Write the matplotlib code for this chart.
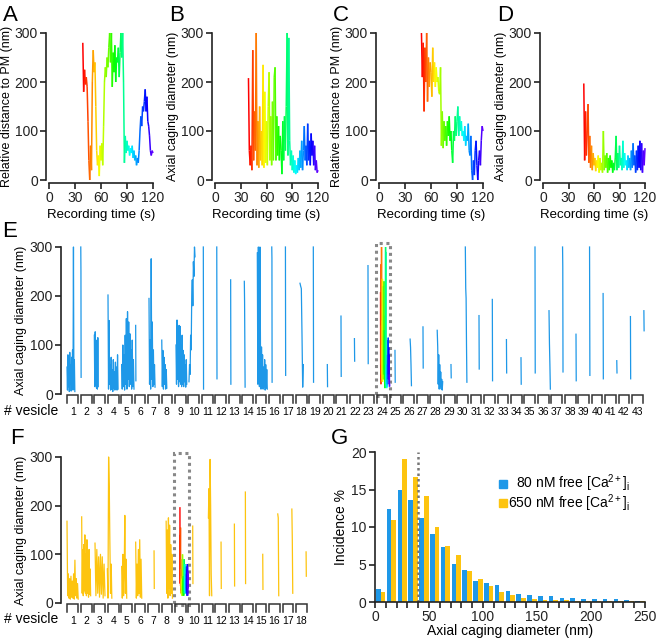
import numpy as np
import matplotlib
matplotlib.use('Agg')
import matplotlib.pyplot as plt
from matplotlib.collections import LineCollection
from matplotlib.patches import Rectangle

plt.rcParams['font.family'] = ['Liberation Sans', 'DejaVu Sans']
plt.rcParams['mathtext.fontset'] = 'custom'
plt.rcParams['mathtext.rm'] = 'Liberation Sans'
plt.rcParams['mathtext.it'] = 'Liberation Sans:italic'
plt.rcParams['mathtext.bf'] = 'Liberation Sans:bold'

BLUE = '#1e98e8'
GOLD = '#fdc40f'
INK = '#222222'

# ---- single vesicle traces (1 s steps) ----
a_t0 = 39
a_vals = [280, 180, 225, 195, 210, 190, 120, 40, 0, 70,
          20, 200, 265, 220, 240, 150, 60, 30, 50, 8,
          70, 40, 75, 30, 110, 200, 230, 210, 250, 230,
          270, 300, 240, 300, 190, 260, 220, 275, 200, 250,
          240, 270, 210, 260, 300, 250, 300, 200, 35, 90,
          55, 80, 60, 70, 50, 65, 55, 70, 45, 60,
          40, 50, 30, 45, 35, 60, 100, 130, 110, 150,
          140, 160, 185, 140, 170, 120, 110, 90, 60, 50,
          60, 55]
b_t0 = 39
b_vals = [208, 60, 30, 70, 20, 265, 40, 140, 60, 300,
          30, 120, 25, 150, 40, 100, 30, 235, 25, 180,
          35, 120, 30, 150, 220, 40, 130, 30, 160, 40,
          210, 230, 40, 130, 50, 110, 40, 90, 60, 12,
          120, 40, 130, 60, 150, 300, 50, 290, 80, 30,
          60, 20, 50, 15, 40, 12, 30, 15, 45, 20,
          60, 25, 80, 20, 60, 110, 40, 70, 30, 115,
          40, 80, 30, 95, 50, 80, 30, 70, 20, 40,
          15, 20]
c_t0 = 49
c_vals = [300, 210, 280, 140, 270, 200, 300, 160, 250, 190,
          240, 220, 170, 270, 200, 240, 190, 230, 200, 210,
          180, 175, 230, 70, 140, 65, 120, 80, 110, 70,
          120, 90, 130, 80, 100, 60, 35, 100, 80, 130,
          90, 120, 150, 90, 130, 100, 120, 90, 100, 80,
          110, 70, 90, 80, 115, 60, 50, 90, 20, 0,
          40, 10, 60, 80, 30, 0, 40, 60, 30, 80,
          110, 100]
d_t0 = 48
d_vals = [197, 40, 140, 50, 100, 155, 35, 90, 25, 70,
          20, 55, 30, 45, 18, 40, 25, 50, 15, 45,
          20, 35, 15, 100, 20, 50, 25, 55, 15, 45,
          20, 50, 25, 40, 15, 35, 20, 45, 90, 20,
          55, 25, 70, 30, 45, 20, 80, 25, 55, 30,
          40, 20, 50, 25, 45, 20, 60, 25, 75, 30,
          50, 15, 60, 20, 70, 25, 80, 20, 75, 15,
          60, 30, 65]

# ---- E: 80 nM, 43 vesicles (start s, end s, values) ----
e_mark = 24
e_t0 = [0, 3, 4, 6, 8, 13, 12, 6, 13, 9, 17, 17, 21, 23, 19, 28, 30, 40, 39, 44, 46, 46,
        47, b_t0, 48, 63, 58, 65, 68, 76, 78, 77, 83, 93, 98, 103, 104, 104, 105, 106, 108, 110, 110]
e_t1 = [70, 6, 39, 96, 118, 15, 66, 51, 109, 63, 19, 19, 23, 30, 108, 31, 32, 70, 41, 46, 48, 48,
        49, b_t0 + len(b_vals) - 1, 50, 75, 60, 114, 70, 90, 80, 79, 85, 95, 100, 115, 108, 106, 108, 108, 110, 112, 112]
e_vals = [
    [55, 8, 80, 15, 70, 5, 85, 20, 60, 6, 75, 12, 90, 8, 300, 10, 70, 5],
    [300, 250, 34],
    [120, 15, 127, 20, 110, 12, 90, 10, 115, 15],
    [202, 10, 150, 20, 60, 8, 75, 10, 50, 5, 70, 12, 45, 8, 65, 10, 55, 8, 80, 10],
    [60, 10, 100, 15, 80, 8, 120, 20, 154, 10, 168, 30, 147, 15, 123, 20, 90, 10, 110, 15, 70, 10],
    [140, 27],
    [195, 20, 110, 10, 276, 30, 147, 15, 90, 20, 60, 14],
    [110, 15, 89, 10, 75, 20, 60, 10, 50, 12],
    [100, 20, 151, 30, 120, 15, 140, 25, 138, 20, 100, 15, 120, 20, 89, 15, 80, 25, 60, 14, 70, 20],
    [25, 60, 40, 120, 90, 200, 233, 180, 270, 240, 300, 280],
    [300, 10],
    [300, 31],
    [233, 20],
    [230, 188, 100, 14],
    [288, 20, 300, 209, 15, 300, 100, 10, 96, 20, 80, 10, 55, 15, 70, 8, 60, 12, 50, 10],
    [300, 277, 24],
    [300, 38],
    [226, 220, 215, 120, 14, 60],
    [300, 24],
    [60, 15],
    [159, 36],
    [113, 67],
    [262, 62],
    b_vals,
    [89, 24],
    [112, 95, 60, 17],
    [137, 53],
    [130, 96, 20, 80, 10, 60, 15, 45, 10, 30, 8, 25],
    [60, 33],
    [300, 216, 195, 100, 24],
    [160, 51],
    [193, 27],
    [111, 43],
    [74, 20],
    [300, 43],
    [170, 103, 60, 10],
    [300, 260, 45],
    [122, 27],
    [300, 38],
    [205, 31],
    [68, 43],
    [158, 31],
    [170, 129],
]

# ---- F: 650 nM, 18 vesicles ----
f_mark = 9
f_t0 = [0, 11, 10, 0, 8, 13, 57, 45, d_t0, 42, 62, 55, 54, 32, 67, 81, 87, 94]
f_t1 = [100, 91, 99, 40, 53, 67, 59, 101, d_t0 + len(d_vals) - 1, 44, 92, 57, 56, 34, 69, 90, 95, 96]
f_vals = [
    [168, 15, 60, 10, 50, 8, 55, 12, 45, 10, 60, 8, 88, 15, 50, 10, 40, 8],
    [177, 20, 110, 15, 120, 25, 140, 20, 100, 15, 130, 20, 90, 12, 110, 18, 70, 15],
    [123, 15, 110, 20, 95, 12, 100, 18, 95, 10, 80, 15],
    [70, 10, 300, 240, 120, 20, 80, 10],
    [75, 10, 100, 15, 60, 180, 20, 90, 10],
    [125, 10, 80, 15, 110, 20, 130, 12, 90, 10],
    [107, 30],
    [168, 20, 150, 10, 175, 30, 160, 15, 120, 20, 100, 10],
    d_vals,
    [158, 40],
    [175, 235, 15, 295, 200, 60, 15],
    [125, 30],
    [162, 35],
    [228, 40],
    [100, 28],
    [183, 175, 15],
    [193, 130, 20],
    [105, 55],
]

# ---- G: histogram (10 nm bins) ----
g_bins = [0, 10, 20, 30, 40, 50, 60, 70, 80, 90, 100, 110, 120, 130, 140, 150,
          160, 170, 180, 190, 200, 210, 220, 230, 240]
g_80nM = [1.8, 12.4, 15.0, 13.6, 11.2, 9.1, 7.3, 5.1, 4.3, 2.8, 2.5, 2.3, 1.5, 1.1, 1.0, 0.85,
          0.75, 0.6, 0.5, 0.45, 0.4, 0.4, 0.4, 0.3, 0.15]
g_650nM = [1.3, 10.9, 19.1, 16.7, 14.1, 10.0, 7.5, 6.3, 4.1, 3.1, 2.2, 1.3, 1.0, 0.6, 0.45, 0.3,
           0.3, 0.25, 0.2, 0.2, 0.2, 0.15, 0.15, 0.1, 0.1]
g_median = 40

SLOT = 120  # one recording = 120 s
W, H = 659, 643
fig = plt.figure(figsize=(W / 100, H / 100), dpi=100)


def px_axes(x0, x1, ytop, ybot):
    return fig.add_axes([x0 / W, 1 - ybot / H, (x1 - x0) / W, (ybot - ytop) / H])


def rainbow(ax, x, v, lw=1.1):
    x = np.asarray(x, float)
    v = np.asarray(v, float)
    pts = np.column_stack([x, v]).reshape(-1, 1, 2)
    segs = np.concatenate([pts[:-1], pts[1:]], axis=1)
    frac = (x[:-1] - x[0]) / (x[-1] - x[0])
    lc = LineCollection(segs, colors=plt.cm.hsv(frac * 0.75), linewidths=lw, clip_on=False)
    ax.add_collection(lc)


def style(ax):
    for s in ['top', 'right']:
        ax.spines[s].set_visible(False)
    for s in ['left', 'bottom']:
        ax.spines[s].set_linewidth(1.2)
        ax.spines[s].set_color(INK)
    ax.tick_params(width=1.2, length=4, color=INK, labelsize=10, pad=2, labelcolor=INK)


def letter(x, y, s):
    fig.text(x / W, 1 - y / H, s, fontsize=16, va='top', ha='left', color='black')


# ---- top row ----
top = [('A', 49, 153, a_t0, a_vals, 'Relative distance to PM (nm)'),
       ('B', 215, 318, b_t0, b_vals, 'Axial caging diameter (nm)'),
       ('C', 379, 483, c_t0, c_vals, 'Relative distance to PM (nm)'),
       ('D', 543, 645, d_t0, d_vals, 'Axial caging diameter (nm)')]
for lab, x0, x1, t0, vals, ylab in top:
    ax = px_axes(x0, x1, 33, 180)
    rainbow(ax, t0 + np.arange(len(vals)), vals)
    ax.set_xlim(0, 120)
    ax.set_ylim(0, 300)
    ax.set_xticks([0, 30, 60, 90, 120])
    ax.set_yticks([0, 100, 200, 300])
    style(ax)
    ax.spines['left'].set_position(('outward', 2))
    ax.spines['bottom'].set_position(('outward', 2))
    ax.set_xlabel('Recording time (s)', fontsize=9.5, labelpad=3)
    ax.set_ylabel(ylab, fontsize=9, labelpad=1)
    letter(x0 - 46, 5, lab)


def vesicle_axis(ax, n):
    for k in range(n):
        x0 = k * SLOT
        ax.plot([x0 + 4, x0 + 4, x0 + 100, x0 + 100], [-18, -2, -2, -18], color='#333333',
                lw=1.1, clip_on=False, solid_joinstyle='miter')
        ax.text(x0 + 52, -36, str(k + 1), ha='center', va='center', fontsize=7.5,
                family=['Liberation Sans Narrow', 'Liberation Sans'], clip_on=False)


def trace_panel(ax, t0s, t1s, vals, mark, color):
    for k in range(len(vals)):
        x = k * SLOT + np.linspace(t0s[k], t1s[k], len(vals[k]))
        if k + 1 == mark:
            rainbow(ax, x, vals[k], lw=1.0)
        else:
            ax.plot(x, vals[k], color=color, lw=0.9, clip_on=False)
    n = len(vals)
    ax.set_xlim(0, n * SLOT)
    ax.set_ylim(0, 300)
    ax.set_yticks([0, 100, 200, 300])
    ax.set_xticks([])
    style(ax)
    ax.spines['bottom'].set_visible(False)
    ax.spines['left'].set_position(('outward', 4))
    ax.set_ylabel('Axial caging diameter (nm)', fontsize=9, labelpad=2)
    vesicle_axis(ax, n)
    ax.add_patch(Rectangle(((mark - 1) * SLOT - 4, -4), SLOT + 10, 312, fill=False,
                           ec='#888888', ls=(0, (1, 1.2)), lw=2.2, clip_on=False))


# ---- E ----
axE = px_axes(67, 645, 247, 394)
trace_panel(axE, e_t0, e_t1, e_vals, e_mark, BLUE)
fig.text(58 / W, 1 - 411 / H, '# vesicle', ha='right', va='center', fontsize=10)
letter(2, 221, 'E')

# ---- F ----
axF = px_axes(67, 309, 457, 603)
trace_panel(axF, f_t0, f_t1, f_vals, f_mark, GOLD)
fig.text(58 / W, 1 - 619 / H, '# vesicle', ha='right', va='center', fontsize=10)
letter(10, 428, 'F')

# ---- G ----
axG = px_axes(375, 645, 452, 602)
bins = np.array(g_bins)
axG.bar(bins + 3.1, g_80nM, width=4.3, color=BLUE, linewidth=0)
axG.bar(bins + 7.4, g_650nM, width=4.3, color=GOLD, linewidth=0)
axG.plot([g_median, g_median], [0, 20], ls=(0, (1, 1.2)), color='#777777', lw=1.8)
axG.set_xlim(0, 250)
axG.set_ylim(0, 20)
axG.set_xticks([0, 50, 100, 150, 200, 250])
axG.set_xticks(np.arange(0, 251, 10), minor=True)
axG.set_yticks([0, 5, 10, 15, 20])
style(axG)
axG.tick_params(which='minor', width=1.2, length=4, color=INK)
axG.set_xlabel('Axial caging diameter (nm)', fontsize=10, labelpad=0)
axG.set_ylabel('Incidence %', fontsize=10, labelpad=2)
leg = [(BLUE, r'80 nM free [Ca$^{\mathrm{2+}}$]$_{\mathrm{i}}$', 0.79),
       (GOLD, r'650 nM free [Ca$^{\mathrm{2+}}$]$_{\mathrm{i}}$', 0.66)]
for col, txt, yy in leg:
    axG.plot([0.474], [yy], marker='s', ms=6, color=col, transform=axG.transAxes, clip_on=False)
    axG.text(0.945, yy, txt, transform=axG.transAxes, ha='right', va='center', fontsize=10)
letter(331, 428, 'G')

fig.savefig('out.png', dpi=100)
